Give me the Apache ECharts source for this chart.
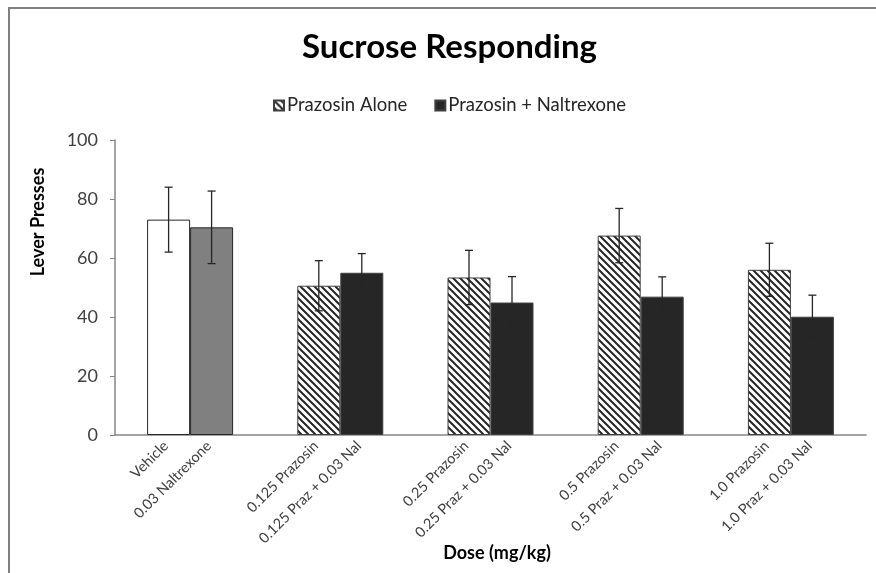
<!DOCTYPE html>
<html>
<head>
<meta charset="utf-8">
<title>Sucrose Responding</title>
<script src="https://cdn.jsdelivr.net/npm/echarts@6/dist/echarts.min.js"></script>
<style>
  html, body { margin: 0; padding: 0; background: #ffffff; }
  #chart { width: 876px; height: 573px; }
</style>
</head>
<body>
<div id="chart"></div>
<script>
// Dose groups along the x axis
const doseGroups = ['Control', '0.125', '0.25', '0.5', '1.0'];

// Per-bar tick labels
const aloneLabels = ['Vehicle', '0.125 Prazosin', '0.25 Prazosin', '0.5 Prazosin', '1.0 Prazosin'];
const naltrexoneLabels = ['0.03 Naltrexone', '0.125 Praz + 0.03 Nal', '0.25 Praz + 0.03 Nal', '0.5 Praz + 0.03 Nal', '1.0 Praz + 0.03 Nal'];

// Mean lever presses and SEM
const aloneMeans = [73, 50.6, 53.4, 67.6, 56.0];
const aloneErr = [11, 8.5, 9.2, 9.2, 9.0];
const naltrexoneMeans = [70.4, 55.0, 44.9, 46.9, 40.1];
const naltrexoneErr = [12.3, 6.5, 8.8, 6.7, 7.3];

// Y axis ticks
const yTicks = [0, 20, 40, 60, 80, 100];

const FONT = 'Lato, "Open Sans", sans-serif';
const BAR_W = 43;

// Diagonal hatch tile for the prazosin-alone bars
function hatchPattern() {
  const s = 7;
  const c = document.createElement('canvas');
  c.width = s; c.height = s;
  const g = c.getContext('2d');
  g.fillStyle = '#ffffff';
  g.fillRect(0, 0, s, s);
  g.strokeStyle = '#262626';
  g.lineWidth = 2;
  g.beginPath();
  g.moveTo(-1, -1); g.lineTo(s + 1, s + 1);
  g.moveTo(-1, s - 1); g.lineTo(1, s + 1);
  g.moveTo(s - 1, -1); g.lineTo(s + 1, 1);
  g.stroke();
  return c;
}
const hatch = { image: hatchPattern(), repeat: 'repeat' };

function barLabel(names) {
  return {
    show: true,
    position: ['50%', '100%'],
    rotate: 45,
    align: 'right',
    verticalAlign: 'middle',
    offset: [-8, 4],
    fontFamily: FONT,
    fontSize: 14.5,
    color: '#404040',
    formatter: p => names[p.dataIndex]
  };
}

const aloneData = aloneMeans.map((v, i) => i === 0
  ? { value: v, itemStyle: { color: '#ffffff', borderColor: '#262626' } }
  : v);
const naltrexoneData = naltrexoneMeans.map((v, i) => i === 0
  ? { value: v, itemStyle: { color: '#808080', borderColor: '#262626' } }
  : v);

// Error bar renderer, shifted half a bar width to either side of the group centre
function errorBars(means, errs, shift) {
  return {
    type: 'custom',
    silent: true,
    z: 5,
    data: means.map((m, i) => [i, m - errs[i], m + errs[i]]),
    renderItem: (params, api) => {
      const lo = api.coord([api.value(0), api.value(1)]);
      const hi = api.coord([api.value(0), api.value(2)]);
      const x = lo[0] + shift;
      const cap = 4;
      const style = { stroke: '#262626', lineWidth: 1.3 };
      return {
        type: 'group',
        children: [
          { type: 'line', shape: { x1: x, y1: lo[1], x2: x, y2: hi[1] }, style },
          { type: 'line', shape: { x1: x - cap, y1: hi[1], x2: x + cap, y2: hi[1] }, style },
          { type: 'line', shape: { x1: x - cap, y1: lo[1], x2: x + cap, y2: lo[1] }, style }
        ]
      };
    }
  };
}

const chart = echarts.init(document.getElementById('chart'), null, { renderer: 'canvas' });
chart.setOption({
  backgroundColor: '#ffffff',
  animation: false,
  title: {
    text: 'Sucrose Responding',
    left: 297,
    top: 26,
    textStyle: { fontFamily: FONT, fontSize: 33, fontWeight: 'bold', color: '#000000' }
  },
  legend: {
    left: 268,
    top: 91,
    itemWidth: 10,
    itemHeight: 10,
    itemGap: 27,
    icon: 'rect',
    textStyle: { fontFamily: FONT, fontSize: 18.5, color: '#262626', padding: [0, 0, 0, -2] },
    data: ['Prazosin Alone', 'Prazosin + Naltrexone']
  },
  graphic: [
    {
      type: 'rect',
      shape: { x: 9, y: 8, width: 900, height: 600 },
      style: { fill: 'none', stroke: '#808080', lineWidth: 2 },
      silent: true
    },
    {
      type: 'text',
      x: 38,
      y: 222,
      rotation: Math.PI / 2,
      style: {
        text: 'Lever Presses',
        fontFamily: FONT,
        fontSize: 18,
        fontWeight: 'bold',
        fill: '#000000',
        align: 'center',
        verticalAlign: 'middle'
      }
    },
    {
      type: 'text',
      x: 497,
      y: 553,
      style: {
        text: 'Dose (mg/kg)',
        fontFamily: FONT,
        fontSize: 18,
        fontWeight: 'bold',
        fill: '#000000',
        align: 'center',
        verticalAlign: 'middle'
      }
    }
  ],
  grid: { left: 115, right: 10, top: 140, bottom: 138, containLabel: false },
  xAxis: {
    type: 'category',
    data: doseGroups,
    axisLine: { lineStyle: { color: '#868686', width: 1.5 } },
    axisTick: { show: false },
    axisLabel: { show: false },
    splitLine: { show: false }
  },
  yAxis: {
    type: 'value',
    min: yTicks[0],
    max: yTicks[yTicks.length - 1],
    interval: yTicks[1] - yTicks[0],
    axisLine: { show: true, lineStyle: { color: '#868686', width: 1.5 } },
    axisTick: { show: true, length: 5, lineStyle: { color: '#868686' } },
    axisLabel: { fontFamily: FONT, fontSize: 18, color: '#404040', margin: 17 },
    splitLine: { show: false }
  },
  series: [
    {
      name: 'Prazosin Alone',
      type: 'bar',
      barWidth: BAR_W,
      barGap: '0%',
      data: aloneData,
      itemStyle: { color: hatch, borderColor: '#404040', borderWidth: 1 },
      label: barLabel(aloneLabels)
    },
    {
      name: 'Prazosin + Naltrexone',
      type: 'bar',
      barWidth: BAR_W,
      barGap: '0%',
      data: naltrexoneData,
      itemStyle: { color: '#262626', borderColor: '#404040', borderWidth: 1 },
      label: barLabel(naltrexoneLabels)
    },
    errorBars(aloneMeans, aloneErr, -BAR_W / 2),
    errorBars(naltrexoneMeans, naltrexoneErr, BAR_W / 2)
  ]
});
</script>
</body>
</html>
